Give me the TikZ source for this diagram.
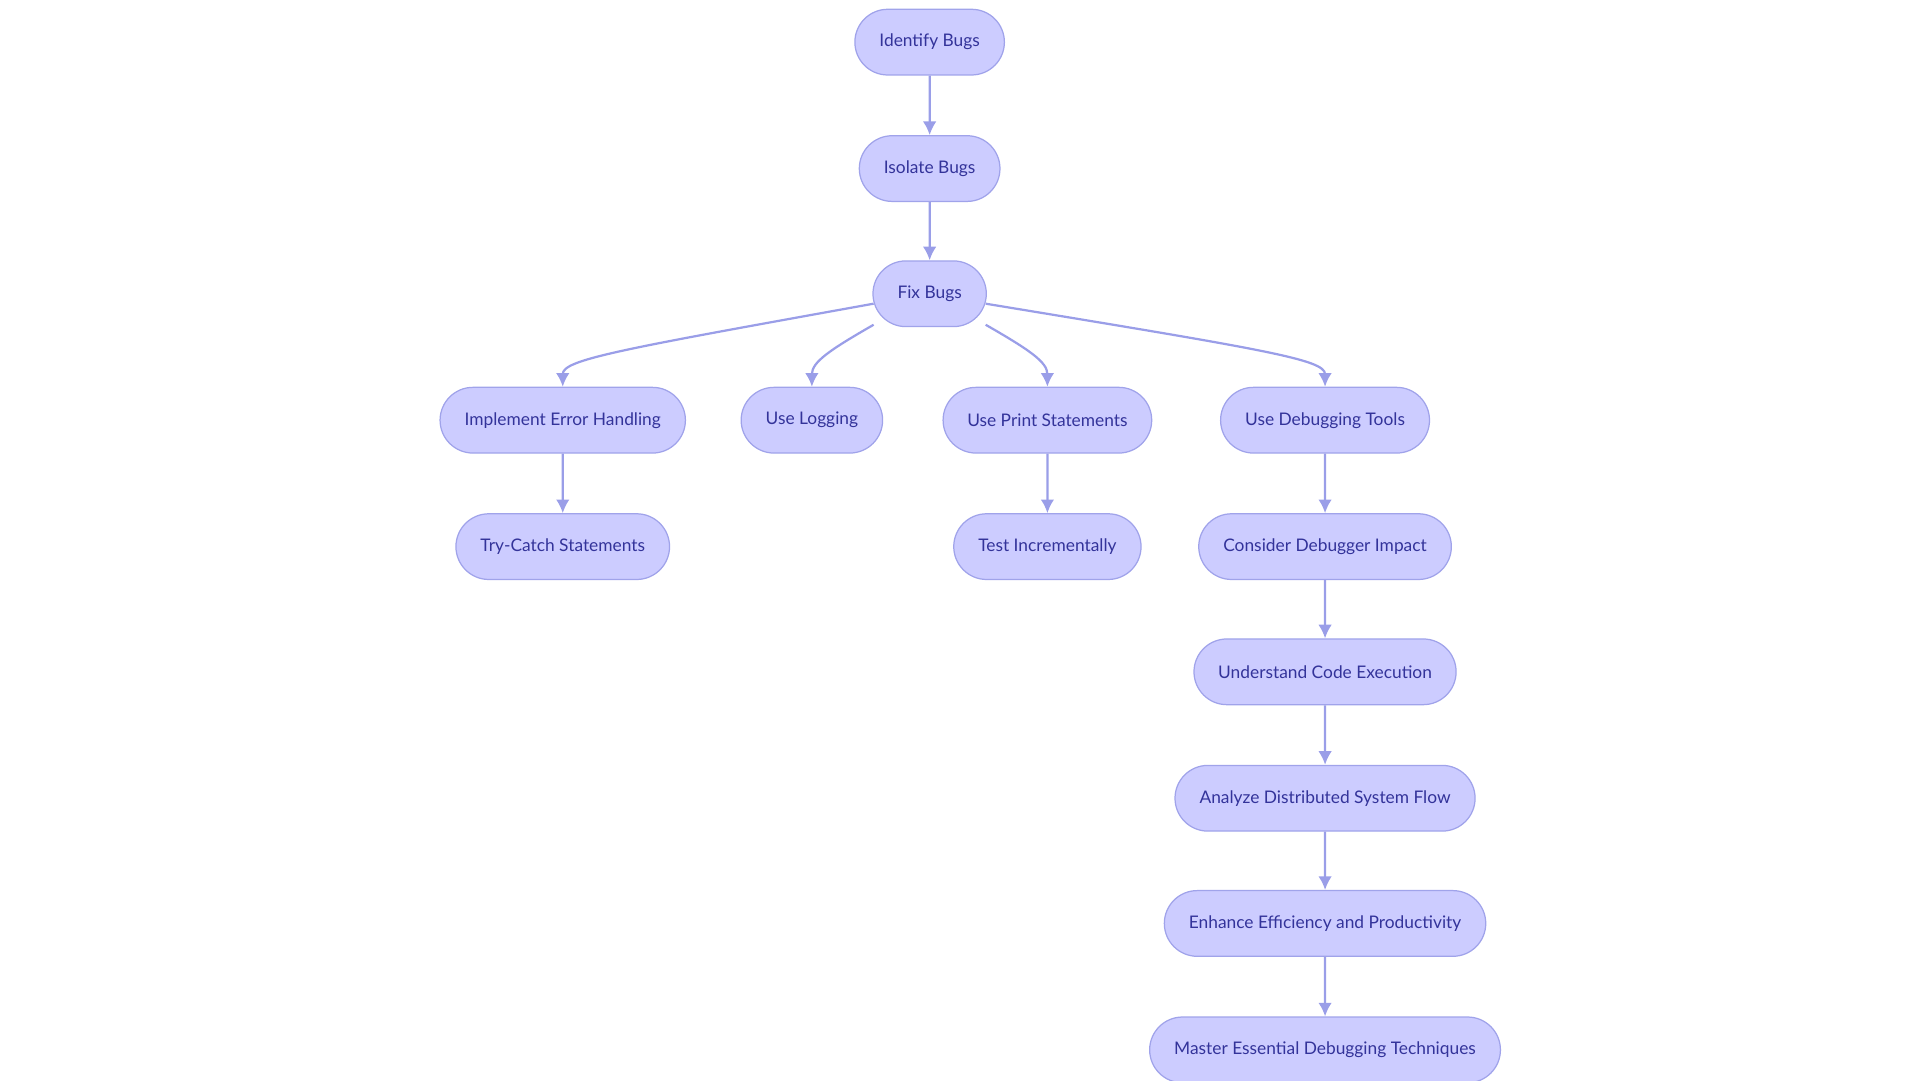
\documentclass[tikz,border=0pt]{standalone}
\usepackage{fontspec}
\setmainfont{Lato}
\usetikzlibrary{arrows.meta,positioning,shapes.misc,calc}
\definecolor{boxfill}{HTML}{CCCCFF}
\definecolor{boxline}{HTML}{A0A3EA}
\definecolor{boxtext}{HTML}{33339A}
\definecolor{edgecol}{HTML}{9A9EE8}

\tikzset{
  stepbox/.style={rounded rectangle, draw=boxline, fill=boxfill, line width=1pt,
    minimum height=53pt, inner xsep=19pt, text=boxtext,
    font=\fontsize{14}{16}\selectfont},
  edge/.style={draw=edgecol, line width=1.8pt, -{Latex[length=11pt,width=11pt]}}
}

\begin{document}
\begin{tikzpicture}[x=1pt,y=-1pt]
\useasboundingbox (0,0) rectangle (1549,872);

% main line
\node[stepbox] (identify) at (750,34) {Identify Bugs};
\node[stepbox] (isolate) at (750,136) {Isolate Bugs};
\node[stepbox] (fix) at (750,237) {Fix Bugs};

% branches
\node[stepbox] (errhandle) at (454,339) {Implement Error Handling};
\node[stepbox] (logging) at (655,339) {Use Logging};
\node[stepbox] (prints) at (845,339) {Use Print Statements};
\node[stepbox] (tools) at (1069,339) {Use Debugging Tools};

\node[stepbox] (trycatch) at (454,441) {Try-Catch Statements};
\node[stepbox] (testinc) at (845,441) {Test Incrementally};

% debugging tools chain
\node[stepbox] (impact) at (1069,441) {Consider Debugger Impact};
\node[stepbox] (execution) at (1069,542) {Understand Code Execution};
\node[stepbox] (distributed) at (1069,644) {Analyze Distributed System Flow};
\node[stepbox] (efficiency) at (1069,745) {Enhance Efficiency and Productivity};
\node[stepbox] (master) at (1069,847) {Master Essential Debugging Techniques};

\draw[edge] (identify) -- (isolate);
\draw[edge] (isolate) -- (fix);

\draw[edge] ($(fix.west)+(1,8)$) .. controls (500,282) and (454,290) .. (errhandle.north);
\draw[edge] ($(fix.west)+(1,25)$) .. controls (670,282) and (655,292) .. (logging.north);
\draw[edge] ($(fix.east)+(-1,25)$) .. controls (830,282) and (845,292) .. (prints.north);
\draw[edge] ($(fix.east)+(-1,8)$) .. controls (1020,282) and (1069,290) .. (tools.north);

\draw[edge] (errhandle) -- (trycatch);
\draw[edge] (prints) -- (testinc);
\draw[edge] (tools) -- (impact);
\draw[edge] (impact) -- (execution);
\draw[edge] (execution) -- (distributed);
\draw[edge] (distributed) -- (efficiency);
\draw[edge] (efficiency) -- (master);
\end{tikzpicture}
\end{document}
